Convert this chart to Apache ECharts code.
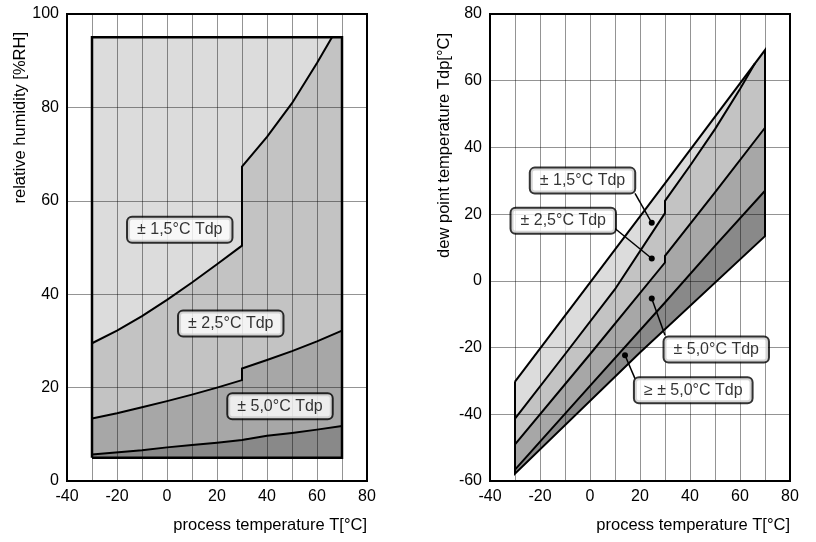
<!DOCTYPE html>
<html><head><meta charset="utf-8">
<script src="https://cdn.jsdelivr.net/npm/echarts@6/dist/echarts.min.js"></script>
<style>html,body{margin:0;padding:0;background:#fff}#c{width:816px;height:542px}</style>
</head><body><div id="c"></div>
<script>
// ===== Left chart: relative humidity [%RH] vs process temperature =====
const rhFrameX = [-30, 70];
const rhFrameY = [5, 95];
const rhCurve15 = [[-30,29.5],[-20,32.2],[-10,35.3],[0,38.8],[10,42.5],[20,46.4],[30,50.4],[30,67.3],[40,73.7],[50,80.9],[60,89.5],[66,95]];
const rhCurve25 = [[-30,13.4],[-20,14.5],[-10,15.8],[0,17.1],[10,18.5],[20,20.0],[30,21.6],[30,24.1],[40,25.9],[50,27.8],[60,29.9],[70,32.2]];
const rhCurve50 = [[-30,5.7],[-10,6.6],[0,7.2],[10,7.7],[20,8.2],[30,8.8],[30,9.1],[40,9.7],[50,10.3],[60,11.0],[70,11.8]];
const rhLabelTexts = ['± 1,5°C Tdp', '± 2,5°C Tdp', '± 5,0°C Tdp'];
const rhLabelPos = [[5.1,53.8],[25.5,33.7],[45.2,16.0]];

// ===== Right chart: dew point temperature Tdp vs process temperature =====
const tdpTop = [[-30,-30.2],[0,-0.5],[30,29.2],[70,69.2]];
const tdpLine15 = [[-30,-41.3],[-10,-22],[10,-2.5],[30,20.3],[30,24],[40,34.5],[50,45.5],[60,57.5],[66,65.2]];
const tdpLine25 = [[-30,-49],[0,-22],[30,5.5],[30,7.5],[50,26.5],[70,45.9]];
const tdpLine50 = [[-30,-56.6],[0,-31.5],[30,-6.5],[30,-6],[50,10.5],[70,27]];
const tdpBottom = [[-30,-57.8],[20,-21.5],[70,13.4]];
const tdpLabelTexts = ['± 1,5°C Tdp', '± 2,5°C Tdp', '± 5,0°C Tdp', '≥ ± 5,0°C Tdp'];
const tdpLabelPos = [[-3,30.05],[-10.7,18.05],[50.5,-20.6],[41.3,-32.8]];
const tdpLeaders = [
  [[18,26.2],[24.7,17.4]],
  [[10,15.7],[24.7,6.7]],
  [[30,-16.3],[24.7,-5.3]],
  [[18,-29.3],[14,-22.3]]
];

const xTicks = { min: -40, max: 80, interval: 20 };
const rhTicks = { min: 0, max: 100, interval: 20 };
const tdpTicks = { min: -60, max: 80, interval: 20 };

const FONT = '"Liberation Sans", Arial, sans-serif';
const GRID_COLOR = 'rgba(0,0,0,0.42)';
const bandColors = ['#dcdcdc', '#c3c3c3', '#a7a7a7', '#898989'];

function poly(upper, lower) { return upper.concat(lower.slice().reverse()); }

const leftBands = [
  poly([[rhFrameX[0], rhFrameY[1]], rhCurve15[rhCurve15.length - 1]], rhCurve15),
  poly(rhCurve15.concat([[rhFrameX[1], rhFrameY[1]]]), rhCurve25),
  poly(rhCurve25, rhCurve50),
  poly(rhCurve50, [[rhFrameX[0], rhFrameY[0]], [rhFrameX[1], rhFrameY[0]]])
];
const mergePt = tdpLine15[tdpLine15.length - 1];
const rightBands = [
  poly(tdpTop.filter(p => p[0] < mergePt[0]).concat([mergePt]), tdpLine15),
  poly(tdpLine15.concat(tdpTop.filter(p => p[0] > mergePt[0])), tdpLine25),
  poly(tdpLine25, tdpLine50),
  poly(tdpLine50, tdpBottom)
];

function bandSeries(bands, idx) {
  return {
    type: 'custom', xAxisIndex: idx, yAxisIndex: idx, z: 1, silent: true,
    data: bands.map(() => [0, 0]),
    renderItem: (params, api) => ({
      type: 'polygon',
      shape: { points: bands[params.dataIndex].map(p => api.coord(p)) },
      style: { fill: bandColors[params.dataIndex], stroke: null }
    })
  };
}
function lineSeries(data, idx, width) {
  return {
    type: 'line', xAxisIndex: idx, yAxisIndex: idx, data: data, symbol: 'none',
    silent: true, z: 4, clip: false, animation: false,
    lineStyle: { color: '#000', width: width || 2, join: 'miter' }
  };
}
function leaderSeries(seg, idx) {
  return {
    type: 'line', xAxisIndex: idx, yAxisIndex: idx, silent: true, z: 5, clip: false,
    showSymbol: true,
    data: [{ value: seg[0], symbol: 'none' }, { value: seg[1], symbol: 'circle', symbolSize: 6 }],
    lineStyle: { color: '#000', width: 1.5 },
    itemStyle: { color: '#000' }
  };
}
function labelSeries(texts, pos, idx) {
  return {
    type: 'scatter', xAxisIndex: idx, yAxisIndex: idx, z: 6, silent: true,
    symbolSize: 1, itemStyle: { color: 'rgba(0,0,0,0)' },
    data: texts.map((t, i) => ({ name: t, value: pos[i] })),
    label: {
      show: true, position: 'inside', formatter: '{b}', color: '#000',
      fontFamily: FONT, fontSize: 16, lineHeight: 18,
      textBorderWidth: 0, textBorderColor: 'transparent', textShadowBlur: 0,
      backgroundColor: '#fff', borderColor: '#000', borderWidth: 2, borderRadius: 4,
      padding: [3, 9, 3, 9]
    }
  };
}

function xAxisDef(gridIndex) {
  return {
    type: 'value', gridIndex: gridIndex, min: xTicks.min, max: xTicks.max, interval: xTicks.interval, z: 3,
    name: 'process temperature T[°C]', nameLocation: 'end', nameGap: 0,
    nameTextStyle: { color: '#000', fontSize: 16.5, fontFamily: FONT, align: 'right', verticalAlign: 'top', padding: [36, 0, 0, 0] },
    axisLine: { show: true, onZero: false, lineStyle: { color: '#000', width: 2 } },
    axisTick: { show: false },
    axisLabel: { color: '#000', fontSize: 16, fontFamily: FONT, margin: 8 },
    splitLine: { show: true, showMinLine: false, showMaxLine: false, lineStyle: { color: GRID_COLOR, width: 1 } },
    minorTick: { show: false, splitNumber: 2 },
    minorSplitLine: { show: true, lineStyle: { color: GRID_COLOR, width: 1 } }
  };
}
function yAxisDef(gridIndex, t) {
  return {
    type: 'value', gridIndex: gridIndex, min: t.min, max: t.max, interval: t.interval, z: 3,
    axisLine: { show: true, onZero: false, lineStyle: { color: '#000', width: 2 } },
    axisTick: { show: false },
    axisLabel: { color: '#000', fontSize: 16, fontFamily: FONT, margin: 8 },
    splitLine: { show: true, showMinLine: false, showMaxLine: false, lineStyle: { color: GRID_COLOR, width: 1 } }
  };
}

const leftFrame = [[rhFrameX[0], rhFrameY[0]], [rhFrameX[0], rhFrameY[1]], [rhFrameX[1], rhFrameY[1]], [rhFrameX[1], rhFrameY[0]], [rhFrameX[0], rhFrameY[0]]];
const rightFrame = tdpTop.concat(tdpBottom.slice().reverse(), [tdpTop[0]]);

const series = [
  bandSeries(leftBands, 0),
  lineSeries(rhCurve15, 0), lineSeries(rhCurve25, 0), lineSeries(rhCurve50, 0),
  lineSeries(leftFrame, 0, 2.5),
  labelSeries(rhLabelTexts, rhLabelPos, 0),
  bandSeries(rightBands, 1),
  lineSeries(tdpLine15, 1), lineSeries(tdpLine25, 1), lineSeries(tdpLine50, 1),
  lineSeries(rightFrame, 1, 2),
  labelSeries(tdpLabelTexts, tdpLabelPos, 1)
].concat(tdpLeaders.map(s => leaderSeries(s, 1)));

const chart = echarts.init(document.getElementById('c'));
chart.setOption({
  animation: false,
  backgroundColor: '#fff',
  grid: [
    { left: 67, top: 14, width: 300, height: 467, show: true, borderColor: '#000', borderWidth: 2, backgroundColor: 'transparent', containLabel: false, outerBoundsMode: 'none' },
    { left: 490, top: 14, width: 300, height: 467, show: true, borderColor: '#000', borderWidth: 2, backgroundColor: 'transparent', containLabel: false, outerBoundsMode: 'none' }
  ],
  xAxis: [xAxisDef(0), xAxisDef(1)],
  yAxis: [yAxisDef(0, rhTicks), yAxisDef(1, tdpTicks)],
  graphic: [
    { type: 'text', x: 20, y: 32, rotation: Math.PI / 2, z: 10,
      style: { text: 'relative humidity [%RH]', fill: '#000', font: '16.5px ' + FONT, textAlign: 'right', textVerticalAlign: 'middle' } },
    { type: 'text', x: 444, y: 33, rotation: Math.PI / 2, z: 10,
      style: { text: 'dew point temperature Tdp[°C]', fill: '#000', font: '16.5px ' + FONT, textAlign: 'right', textVerticalAlign: 'middle' } }
  ],
  series: series
});
</script>
</body></html>
